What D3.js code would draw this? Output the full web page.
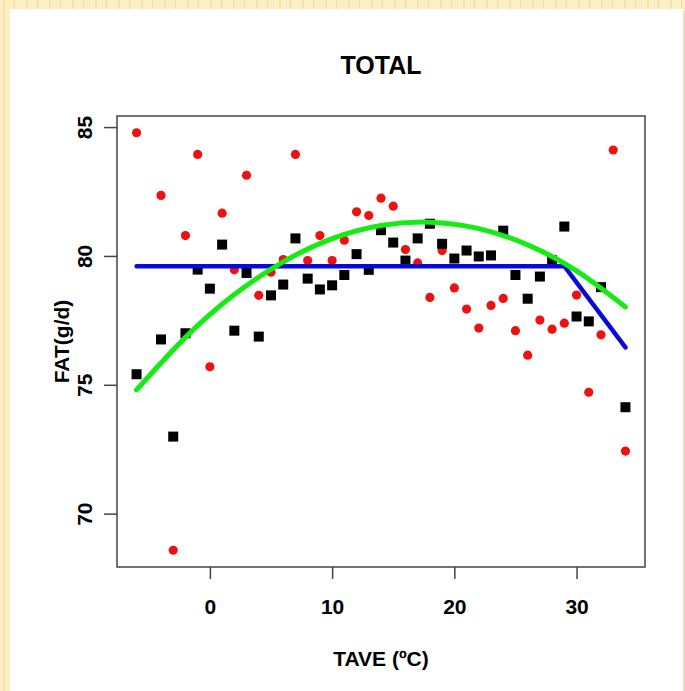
<!DOCTYPE html>
<html lang="en">
<head>
    <meta charset="UTF-8">
    <title>TOTAL</title>
    <script src="https://d3js.org/d3.v7.min.js"></script>
    <style>
        body { margin: 0; }
        text { font-family: "Liberation Sans", Arial, sans-serif; font-weight: bold; }
    </style>
</head>
<body>
<script>
    // red circles: temperature and fat
    var tempRed = [-6,-4,-3,-2,-1,0,1,2,3,4,5,6,7,8,9,10,11,12,13,14,15,16,17,18,19,20,21,22,23,24,25,26,27,28,29,30,31,32,33,34];
    var fatRed  = [84.78,82.35,68.58,80.79,83.94,75.70,81.66,79.46,83.13,78.47,79.37,79.86,83.94,79.82,80.79,79.82,80.61,81.71,81.57,82.24,
                   81.93,80.25,79.73,78.39,80.21,78.76,77.94,77.20,78.08,78.35,77.10,76.15,77.51,77.16,77.39,78.48,74.71,76.94,84.11,72.43];

    // black squares
    var tempBlack = [-6,-4,-3,-2,-1,0,1,2,3,4,5,6,7,8,9,10,11,12,13,14,15,16,17,18,19,20,21,22,23,24,25,26,27,28,29,30,31,32,34];
    var fatBlack  = [75.41,76.76,72.99,77.00,79.47,78.73,80.44,77.10,79.34,76.87,78.47,78.89,80.68,79.12,78.70,78.86,79.26,80.07,79.46,81.00,
                     80.52,79.82,80.68,81.25,80.47,79.90,80.21,79.98,80.02,80.98,79.26,78.34,79.20,79.83,81.14,77.65,77.46,78.79,74.13];

    // blue broken-stick line
    var blueT = [-6, 29, 34];
    var blueY = [79.6, 79.6, 76.45];

    // green curve
    var greenT = [-6,-2,2,6,10,14,18,22,26,30,34];
    var greenY = [74.8,76.84,78.5,79.77,80.67,81.18,81.31,81.06,80.43,79.42,78.02];

    var xTicks = [0,10,20,30];
    var yTicks = [70,75,80,85];

    var W = 685, H = 691;
    var box = {left: 117, right: 645, top: 116, bottom: 567};

    var svg = d3.select("body").append("svg")
        .attr("width", W)
        .attr("height", H);

    // beige slide background with faint stripes
    var defs = svg.append("defs");
    var pat = defs.append("pattern")
        .attr("id", "stripes")
        .attr("patternUnits", "userSpaceOnUse")
        .attr("width", 23).attr("height", 40);
    pat.append("rect").attr("width", 23).attr("height", 40).attr("fill", "#fcefc6");
    pat.append("rect").attr("x", 3).attr("width", 2).attr("height", 40).attr("fill", "#f8e2a8");
    pat.append("rect").attr("x", 14).attr("width", 1).attr("height", 40).attr("fill", "#f6dc9c");

    svg.append("rect").attr("width", W).attr("height", H).attr("fill", "url(#stripes)");
    svg.append("rect")
        .attr("x", 11).attr("y", 11)
        .attr("width", W - 11).attr("height", H - 11)
        .attr("fill", "#e9dcc0");
    svg.append("rect")
        .attr("x", 10).attr("y", 9)
        .attr("width", W - 12).attr("height", H - 9)
        .attr("fill", "#ffffff");

    var x = d3.scaleLinear().domain([-7.6, 35.6]).range([box.left, box.right]);
    var y = d3.scaleLinear().domain([67.93, 85.43]).range([box.bottom, box.top]);

    //x-axis
    var gx = svg.append("g")
        .attr("transform", "translate(0," + box.bottom + ")")
        .call(d3.axisBottom(x).tickValues(xTicks).tickSize(12).tickPadding(20));
    gx.select(".domain").remove();
    gx.selectAll("line").attr("stroke", "#444").attr("stroke-width", 1.5);
    gx.selectAll("text")
        .attr("fill", "#000")
        .style("font-size", "21px")
        .style("font-family", "'Liberation Sans', Arial, sans-serif")
        .style("font-weight", "bold");

    //y-axis, labels rotated like R
    var gy = svg.append("g")
        .attr("transform", "translate(" + box.left + ",0)")
        .call(d3.axisLeft(y).tickValues(yTicks).tickSize(13));
    gy.select(".domain").remove();
    gy.selectAll("line").attr("stroke", "#444").attr("stroke-width", 1.5);
    gy.selectAll("text")
        .attr("fill", "#000")
        .attr("x", 0).attr("dy", 0)
        .attr("text-anchor", "middle")
        .attr("transform", "translate(-25,0) rotate(-90)")
        .style("font-size", "21px")
        .style("font-family", "'Liberation Sans', Arial, sans-serif")
        .style("font-weight", "bold");

    // points: red first, black squares on top
    svg.append("g").selectAll("circle")
        .data(tempRed)
        .enter().append("circle")
        .attr("cx", function(d) { return x(d); })
        .attr("cy", function(d, i) { return y(fatRed[i]); })
        .attr("r", 4.6)
        .attr("fill", "#ee1111");

    var sq = 10;
    svg.append("g").selectAll("rect")
        .data(tempBlack)
        .enter().append("rect")
        .attr("x", function(d) { return x(d) - sq / 2; })
        .attr("y", function(d, i) { return y(fatBlack[i]) - sq / 2; })
        .attr("width", sq).attr("height", sq)
        .attr("fill", "#000");

    var blueLine = d3.line()
        .x(function(d) { return x(d); })
        .y(function(d, i) { return y(blueY[i]); });
    svg.append("path")
        .attr("d", blueLine(blueT))
        .attr("fill", "none")
        .attr("stroke", "#0a0ad8")
        .attr("stroke-width", 4.5)
        .attr("stroke-linecap", "round");

    var greenLine = d3.line()
        .curve(d3.curveNatural)
        .x(function(d) { return x(d); })
        .y(function(d, i) { return y(greenY[i]); });
    svg.append("path")
        .attr("d", greenLine(greenT))
        .attr("fill", "none")
        .attr("stroke", "#14ec14")
        .attr("stroke-width", 5)
        .attr("stroke-linecap", "round");

    // plot box
    svg.append("rect")
        .attr("x", box.left).attr("y", box.top)
        .attr("width", box.right - box.left)
        .attr("height", box.bottom - box.top)
        .attr("fill", "none")
        .attr("stroke", "#444")
        .attr("stroke-width", 1.5);

    //Heading
    svg.append("text")
        .attr("x", (box.left + box.right) / 2)
        .attr("y", 74)
        .attr("text-anchor", "middle")
        .style("font-size", "25px")
        .text("TOTAL");

    //axis titles
    svg.append("text")
        .attr("x", (box.left + box.right) / 2)
        .attr("y", 666)
        .attr("text-anchor", "middle")
        .style("font-size", "21px")
        .text("TAVE (ºC)");

    svg.append("text")
        .attr("transform", "translate(69," + ((box.top + box.bottom) / 2) + ") rotate(-90)")
        .attr("text-anchor", "middle")
        .style("font-size", "21px")
        .text("FAT(g/d)");
</script>
</body>
</html>
